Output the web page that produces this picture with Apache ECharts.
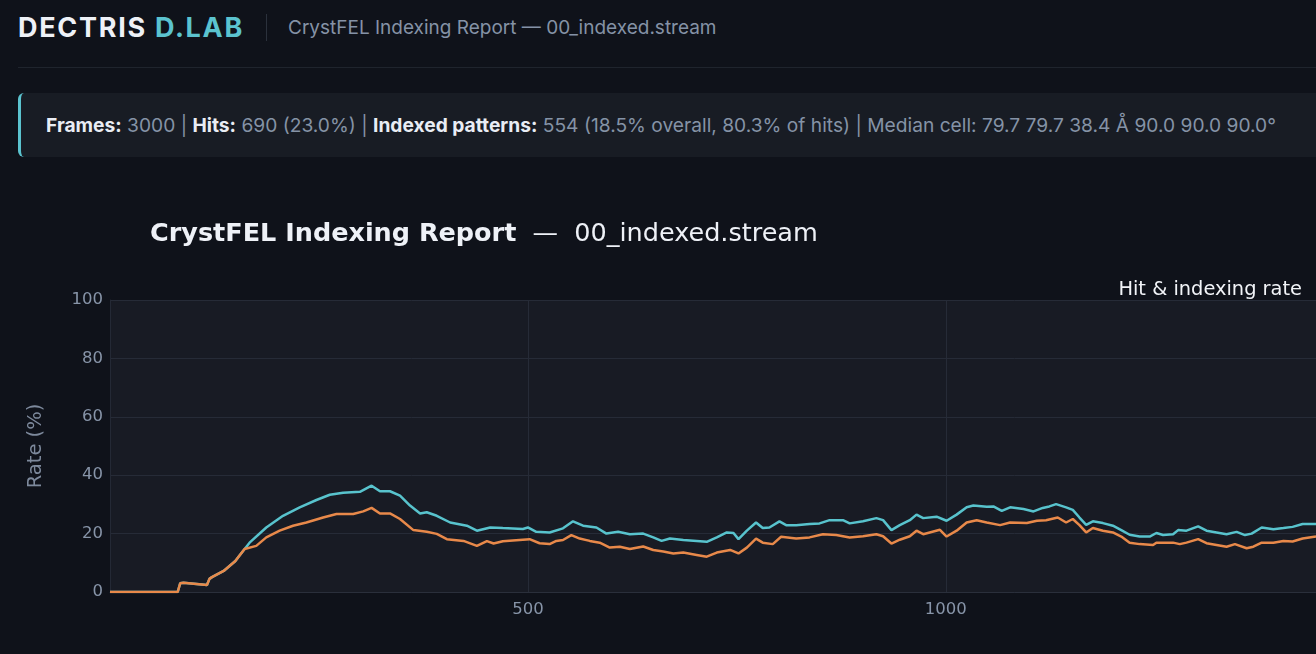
<!DOCTYPE html>
<html>
<head>
<meta charset="utf-8">
<script src="https://cdn.jsdelivr.net/npm/echarts@6/dist/echarts.min.js"></script>
<style>
	html, body { margin: 0; padding: 0; background: #0f121a; overflow: hidden; }
	body { width: 1316px; height: 654px; position: relative; font-family: Inter, 'Noto Sans', sans-serif; }
	.brand { position: absolute; left: 18px; top: 10px; height: 34px; display: flex; align-items: center; white-space: nowrap; }
	.logo { font-weight: 700; font-size: 27px; letter-spacing: 1.7px; color: #eef1f7; }
	.logo span { color: #5bc3cf; }
	.sep { width: 1px; height: 27px; background: #2b313c; margin: 0 21px 0 22px; }
	.sub { font-size: 19px; color: #8592a6; }
	.rule { position: absolute; left: 18px; right: 0; top: 67px; height: 1px; background: #1f242d; }
	.info { position: absolute; left: 18px; right: -20px; top: 93px; height: 64px; background: #181c24; border-left: 3px solid #5bc3cf; border-radius: 6px; box-sizing: border-box; padding-left: 25px; line-height: 64px; font-size: 19.2px; color: #8593a6; white-space: nowrap; }
	.info b { color: #e9edf4; font-weight: 700; }
	#chart { position: absolute; left: 0; top: 170px; width: 1316px; height: 484px; }
</style>
</head>
<body>
<div class="brand"><div class="logo">DECTRIS <span>D.LAB</span></div><div class="sep"></div><div class="sub">CrystFEL Indexing Report — 00_indexed.stream</div></div>
<div class="rule"></div>
<div class="info"><b>Frames:</b> 3000 | <b>Hits:</b> 690 (23.0%) | <b>Indexed patterns:</b> 554 (18.5% overall, 80.3% of hits) | Median cell: 79.7 79.7 38.4 Å 90.0 90.0 90.0°</div>
<div id="chart"></div>
<script>
	// hit rate (running, %)
	const hitFrames = [0, 81, 84, 88, 116, 119, 122, 136, 150, 155, 167, 187, 207, 227, 247, 263, 279, 299, 313, 323, 335, 347, 359, 371, 379, 391, 407, 427, 439, 455, 470, 494, 500, 510, 526, 542, 554, 566, 582, 594, 608, 622, 638, 650, 660, 670, 686, 702, 714, 726, 738, 746, 752, 762, 773, 781, 789, 801, 809, 821, 837, 849, 861, 877, 885, 901, 917, 925, 935, 945, 957, 965, 973, 989, 1001, 1013, 1025, 1033, 1049, 1057, 1067, 1077, 1093, 1105, 1116, 1124, 1132, 1144, 1152, 1160, 1168, 1176, 1188, 1200, 1210, 1220, 1232, 1244, 1252, 1260, 1272, 1278, 1288, 1302, 1312, 1324, 1336, 1348, 1358, 1366, 1378, 1392, 1404, 1415, 1427, 1443];
	const hitRate = [0, 0, 3.0, 3.2, 2.4, 4.5, 5.1, 7.2, 10.6, 12.5, 16.9, 22.1, 26.1, 29, 31.5, 33.3, 34, 34.3, 36.4, 34.5, 34.5, 33, 29.6, 26.9, 27.3, 26.1, 23.8, 22.7, 21, 22.1, 21.9, 21.6, 22.1, 20.6, 20.4, 21.8, 24.2, 22.7, 22.1, 20, 20.6, 19.8, 20, 18.7, 17.5, 18.3, 17.8, 17.5, 17.2, 18.7, 20.4, 20.2, 18.1, 21, 23.8, 21.9, 22.1, 24.2, 22.9, 22.9, 23.3, 23.5, 24.6, 24.6, 23.5, 24.2, 25.3, 24.6, 21.2, 22.9, 24.6, 26.5, 25.3, 25.8, 24.4, 26.5, 29, 29.6, 29.2, 29.3, 27.8, 29, 28.4, 27.6, 28.8, 29.3, 30.1, 29, 28.1, 25.5, 23, 24.2, 23.6, 22.7, 21.2, 19.6, 19, 19, 20.2, 19.5, 19.8, 21.2, 21, 22.5, 21, 20.4, 19.8, 20.6, 19.5, 20, 22.1, 21.5, 21.9, 22.3, 23.3, 23.3];

	// indexing rate (running, %)
	const idxFrames = [0, 81, 84, 88, 116, 119, 122, 136, 150, 161, 175, 187, 203, 219, 235, 255, 271, 291, 303, 313, 323, 335, 347, 363, 379, 391, 403, 423, 439, 451, 459, 470, 502, 514, 526, 534, 542, 552, 562, 574, 586, 598, 610, 622, 638, 650, 662, 674, 686, 702, 714, 726, 742, 752, 762, 773, 781, 793, 803, 821, 837, 853, 869, 885, 901, 917, 925, 935, 945, 957, 965, 973, 993, 1001, 1013, 1025, 1037, 1049, 1065, 1077, 1097, 1109, 1120, 1134, 1144, 1152, 1160, 1168, 1176, 1188, 1200, 1210, 1220, 1232, 1248, 1252, 1272, 1280, 1288, 1302, 1312, 1324, 1336, 1346, 1360, 1368, 1378, 1392, 1404, 1415, 1427, 1443];
	const idxRate = [0, 0, 3.0, 3.2, 2.4, 4.5, 5.1, 7.2, 10.6, 14.7, 15.8, 18.7, 21, 22.7, 23.8, 25.5, 26.7, 26.7, 27.6, 28.8, 26.9, 26.9, 25, 21.2, 20.6, 19.9, 18.1, 17.5, 15.8, 17.4, 16.6, 17.4, 18.1, 16.7, 16.4, 17.5, 17.8, 19.5, 18.3, 17.5, 16.9, 15.2, 15.5, 14.7, 15.6, 14.4, 13.9, 13.2, 13.5, 12.7, 12.1, 13.5, 14.4, 13.2, 15.2, 18.3, 16.9, 16.4, 18.9, 18.3, 18.7, 19.8, 19.5, 18.7, 19.1, 19.8, 19.1, 16.6, 17.9, 19.1, 21, 19.8, 21.3, 19, 21, 23.8, 24.6, 23.8, 22.9, 23.8, 23.6, 24.4, 24.6, 25.5, 23.8, 25, 22.9, 20.4, 21.9, 21, 20.4, 19, 16.9, 16.4, 16.1, 16.9, 16.9, 16.4, 16.9, 18.1, 16.7, 16.1, 15.5, 16.4, 15, 15.5, 16.9, 16.9, 17.5, 17.3, 18.3, 19];

	const yTicks = [0, 20, 40, 60, 80, 100];
	const xTickStep = 500;
	const xMax = 1443;

	const pair = (xs, ys) => xs.map((x, i) => [x, ys[i]]);

	const chart = echarts.init(document.getElementById('chart'), null, { renderer: 'canvas' });

	chart.setOption({
		backgroundColor: 'transparent',
		animation: false,
		textStyle: { fontFamily: 'DejaVu Sans' },
		title: [{
			left: 145,
			top: 46,
			text: '{b|CrystFEL Indexing Report}{n|  —  00_indexed.stream}',
			textStyle: {
				rich: {
					b: { fontFamily: 'DejaVu Sans', fontWeight: 'bold', fontSize: 25.5, color: '#eef1f7' },
					n: { fontFamily: 'DejaVu Sans', fontWeight: 'normal', fontSize: 25.5, color: '#eef1f7' }
				}
			}
		}, {
			right: 9,
			top: 105,
			text: 'Hit & indexing rate',
			textStyle: { fontFamily: 'DejaVu Sans', fontWeight: 'normal', fontSize: 19.4, color: '#f2f4f8' }
		}],
		grid: {
			left: 110,
			right: 0,
			top: 130,
			bottom: 62,
			show: true,
			backgroundColor: '#181b24',
			borderWidth: 0
		},
		xAxis: {
			type: 'value',
			min: 0,
			max: xMax,
			interval: xTickStep,
			axisLine: { show: true, lineStyle: { color: '#2a2f3b', width: 1 } },
			axisTick: { show: false },
			axisLabel: { showMinLabel: false, showMaxLabel: false, color: '#8794a8', fontSize: 16.5, margin: 9, formatter: v => String(v) },
			splitLine: { show: true, lineStyle: { color: '#262b37', width: 1 } }
		},
		yAxis: {
			type: 'value',
			min: yTicks[0],
			max: yTicks[yTicks.length - 1],
			interval: yTicks[1] - yTicks[0],
			name: 'Rate (%)',
			nameLocation: 'middle',
			nameGap: 64,
			nameTextStyle: { color: '#7d899c', fontSize: 19.5 },
			axisLine: { show: true, lineStyle: { color: '#242935', width: 1 } },
			axisTick: { show: false },
			axisLabel: { color: '#8794a8', fontSize: 16.5, margin: 7 },
			splitLine: { show: true, lineStyle: { color: '#262b37', width: 1 } }
		},
		series: [{
			name: 'Hit rate',
			type: 'line',
			data: pair(hitFrames, hitRate),
			showSymbol: false,
			lineStyle: { color: '#58c3cd', width: 2.5 },
			itemStyle: { color: '#58c3cd' }
		}, {
			name: 'Indexing rate',
			type: 'line',
			data: pair(idxFrames, idxRate),
			showSymbol: false,
			lineStyle: { color: '#e8894a', width: 2.5 },
			itemStyle: { color: '#e8894a' }
		}]
	});
</script>
</body>
</html>
